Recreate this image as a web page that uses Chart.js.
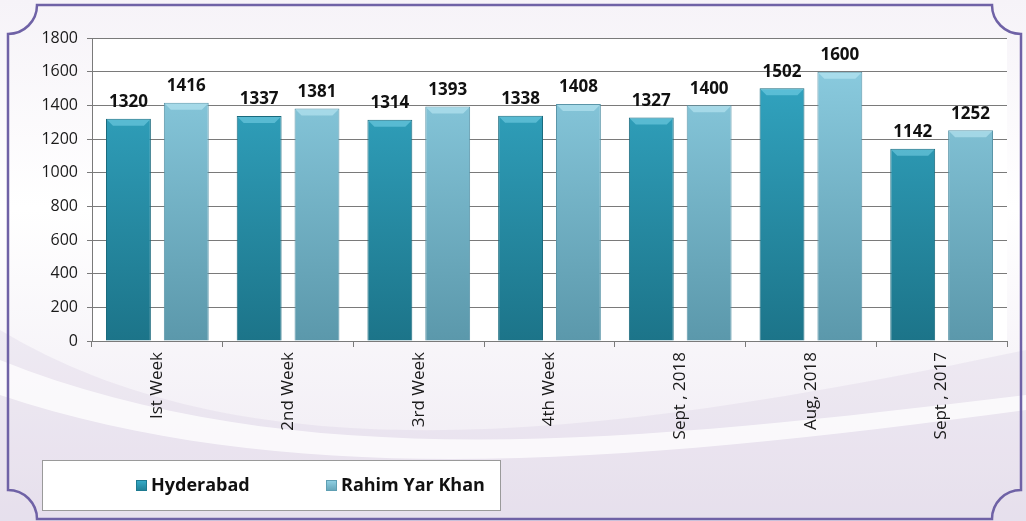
<!DOCTYPE html>
<html>
<head>
<meta charset="utf-8">
<script src="https://cdn.jsdelivr.net/npm/chart.js@4/dist/chart.umd.min.js"></script>
<style>
  html, body { margin: 0; padding: 0; background: #fff; }
  #wrap { width: 1026px; height: 521px; }
</style>
</head>
<body>
<div id="wrap"><canvas id="chart"></canvas></div>
<script>
const categories = ['Ist Week', '2nd Week', '3rd Week', '4th Week', 'Sept , 2018', 'Aug, 2018', 'Sept , 2017']
const hyderabad = [1320, 1337, 1314, 1338, 1327, 1502, 1142]
const rahimYarKhan = [1416, 1381, 1393, 1408, 1400, 1600, 1252]
const seriesNames = ['Hyderabad', 'Rahim Yar Khan']

const FONT = '"Open Sans", "DejaVu Sans", sans-serif'

// vertical shading for the bars
function barFill(top, bottom) {
  return (ctx) => {
    const area = ctx.chart.chartArea
    if (!area) return top
    const g = ctx.chart.ctx.createLinearGradient(0, area.top, 0, area.bottom)
    g.addColorStop(0, top)
    g.addColorStop(1, bottom)
    return g
  }
}

const framePlugin = {
  id: 'frame',
  beforeDraw(chart) {
    const c = chart.ctx
    const {width, height} = chart
    c.save()
    // soft lavender backdrop
    const bg = c.createLinearGradient(0, 0, 0, height)
    bg.addColorStop(0, '#f6f3f8')
    bg.addColorStop(0.4, '#ffffff')
    bg.addColorStop(1, '#eee9f2')
    c.fillStyle = bg
    c.fillRect(0, 0, width, height)

    // swooshes
    c.fillStyle = 'rgba(205,190,220,0.22)'
    c.beginPath()
    c.moveTo(0, 330)
    c.bezierCurveTo(250, 480, 600, 440, 1026, 350)
    c.lineTo(1026, 521)
    c.lineTo(0, 521)
    c.closePath()
    c.fill()
    c.fillStyle = 'rgba(255,255,255,0.75)'
    c.beginPath()
    c.moveTo(0, 360)
    c.bezierCurveTo(300, 480, 650, 440, 1026, 395)
    c.lineTo(1026, 410)
    c.bezierCurveTo(650, 460, 300, 495, 0, 395)
    c.closePath()
    c.fill()

    // frame with concave corners
    const L = 8, T = 5, R = 1021, B = 519, r = 29
    c.strokeStyle = '#6f62a6'
    c.lineWidth = 2.5
    c.beginPath()
    c.moveTo(L + r, T)
    c.lineTo(R - r, T)
    c.arc(R, T, r, Math.PI, Math.PI / 2, true)
    c.lineTo(R, B - r)
    c.arc(R, B, r, -Math.PI / 2, Math.PI, true)
    c.lineTo(L + r, B)
    c.arc(L, B, r, 0, -Math.PI / 2, true)
    c.lineTo(L, T + r)
    c.arc(L, T, r, Math.PI / 2, 0, true)
    c.closePath()
    c.stroke()

    // white plot area
    const a = chart.chartArea
    c.fillStyle = '#ffffff'
    c.fillRect(a.left, a.top, a.right - a.left, a.bottom - a.top)
    c.restore()
  },
  afterDatasetsDraw(chart) {
    // light bevel cap on each bar
    const c = chart.ctx
    c.save()
    chart.data.datasets.forEach((ds, di) => {
      chart.getDatasetMeta(di).data.forEach((bar) => {
        const w = bar.width
        const x0 = bar.x - w / 2
        c.fillStyle = di === 0 ? 'rgba(140,225,245,0.45)' : 'rgba(200,240,250,0.5)'
        c.beginPath()
        c.moveTo(x0 + 1, bar.y + 1)
        c.lineTo(x0 + w - 1, bar.y + 1)
        c.lineTo(x0 + w - 7, bar.y + 7)
        c.lineTo(x0 + 7, bar.y + 7)
        c.closePath()
        c.fill()
      })
    })
    c.restore()
  },
  afterDraw(chart) {
    const c = chart.ctx
    c.save()
    // legend box
    c.fillStyle = '#ffffff'
    c.strokeStyle = '#9a9a9a'
    c.lineWidth = 1
    c.fillRect(42.5, 460.5, 458, 50)
    c.strokeRect(42.5, 460.5, 458, 50)
    const xs = [136, 326]
    const tops = ['#37aecb', '#93d3e6']
    const bots = ['#1d7a90', '#5f9fb3']
    c.font = 'bold 18px ' + FONT
    c.textBaseline = 'middle'
    seriesNames.forEach((name, i) => {
      const g = c.createLinearGradient(0, 480, 0, 492)
      g.addColorStop(0, tops[i])
      g.addColorStop(1, bots[i])
      c.fillStyle = g
      c.fillRect(xs[i], 480, 11, 11)
      c.strokeStyle = bots[i]
      c.strokeRect(xs[i] + 0.5, 480.5, 10, 10)
      c.fillStyle = '#111'
      c.fillText(name, xs[i] + 15, 486)
    })

    // value labels above bars
    c.font = 'bold 17px ' + FONT
    c.textAlign = 'center'
    c.textBaseline = 'bottom'
    c.fillStyle = '#111'
    chart.data.datasets.forEach((ds, di) => {
      chart.getDatasetMeta(di).data.forEach((bar, i) => {
        c.fillText(String(ds.data[i]), bar.x, bar.y - 8)
      })
    })
    c.restore()
  }
}

new Chart(document.getElementById('chart'), {
  type: 'bar',
  data: {
    labels: categories,
    datasets: [
      {
        label: seriesNames[0],
        data: hyderabad,
        backgroundColor: barFill('#35abc8', '#1c7489'),
        borderColor: '#1a6a7d',
        borderWidth: 1,
      },
      {
        label: seriesNames[1],
        data: rahimYarKhan,
        backgroundColor: barFill('#8fd0e4', '#5b98ab'),
        borderColor: '#5a95a8',
        borderWidth: 1,
      },
    ]
  },
  options: {
    responsive: true,
    maintainAspectRatio: false,
    animation: false,
    categoryPercentage: 0.885,
    barPercentage: 0.776,
    layout: {
      padding: {left: 8, right: 19, top: 38, bottom: 60},
    },
    plugins: {
      legend: {display: false},
      tooltip: {enabled: false},
    },
    scales: {
      x: {
        offset: true,
        grid: {
          offset: true,
          drawOnChartArea: false,
          drawTicks: true,
          tickLength: 6,
          color: '#7a7a7a',
        },
        border: {color: '#7a7a7a'},
        ticks: {
          minRotation: 90,
          maxRotation: 90,
          padding: 5,
          color: '#1a1a1a',
          font: {family: FONT, size: 17},
        },
        afterFit(scale) { scale.height = 120 },
      },
      y: {
        min: 0,
        max: 1800,
        ticks: {
          stepSize: 200,
          padding: 9,
          color: '#1a1a1a',
          font: {family: FONT, size: 16},
          callback: (v) => String(v),
        },
        grid: {
          color: '#7a7a7a',
          tickLength: 5,
        },
        border: {color: '#7a7a7a'},
        afterFit(scale) { scale.width = 84 },
      },
    },
  },
  plugins: [framePlugin],
})
</script>
</body>
</html>
